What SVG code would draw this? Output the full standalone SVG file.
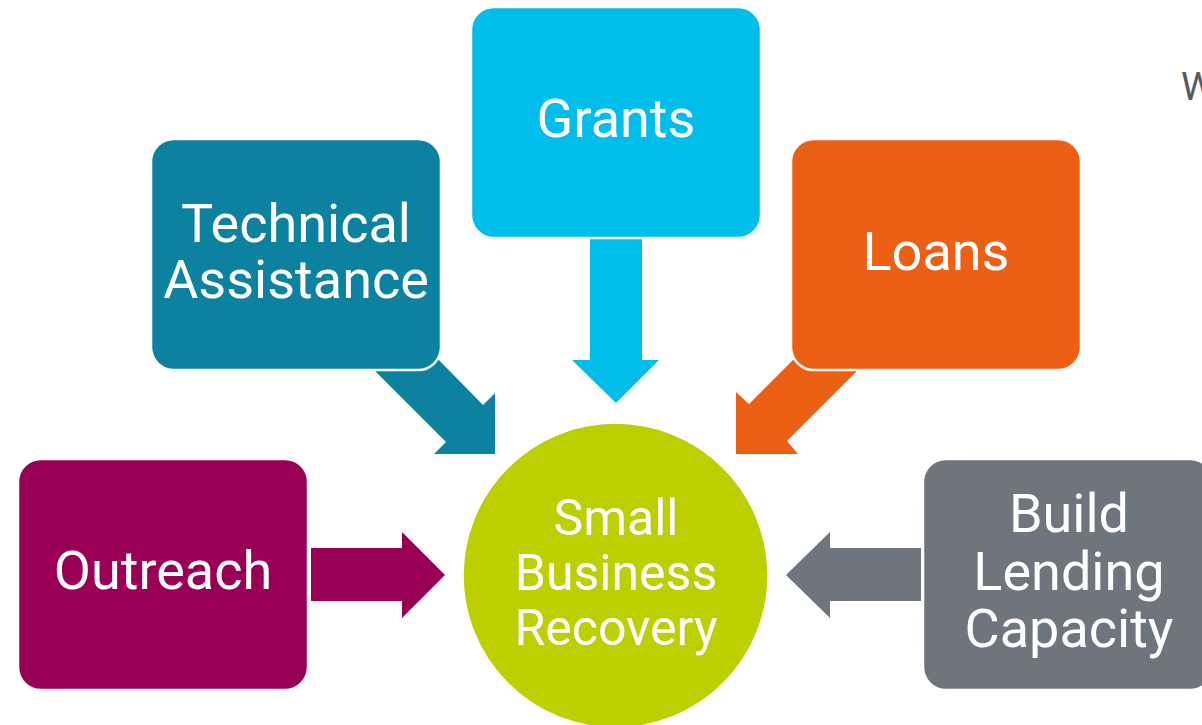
<svg xmlns="http://www.w3.org/2000/svg" width="1202" height="725" viewBox="0 0 1202 725">
<style>
.box{stroke:#ffffff;stroke-width:2.5}
.lbl{font-family:Roboto,"Liberation Sans",sans-serif;font-size:54px;fill:#ffffff;text-anchor:middle}
.clbl{font-family:Roboto,"Liberation Sans",sans-serif;font-size:50px;fill:#ffffff;text-anchor:middle}
</style>
<rect width="1202" height="725" fill="#ffffff"/>
<text x="1181" y="100" font-family="Roboto,'Liberation Sans',sans-serif" font-size="38" fill="#595959">W</text>
<g id="connectors">
<polygon fill="#0C82A0" points="356,352 446,442 434,454 495,454 495,393 483,405 430,351"/>
<polygon fill="#00BDE9" points="590,230 590,360 572,360 616,403 659,360 642,360 642,230"/>
<polygon fill="#EC6016" points="736,454 736,392 749,404 803,350 878,350 787,441 798,454"/>
<polygon fill="#990055" points="311,548 402,548 402,532 445,575 402,618 402,601 311,601"/>
<polygon fill="#6E757C" points="921,548 830,548 830,532 786,575 830,618 830,601 921,601"/>
</g>
<g id="technical">
<rect class="box" x="151" y="139" width="290" height="231" rx="23" fill="#0C82A0"/>
<text class="lbl" x="296" y="242">Technical</text>
<text class="lbl" x="296" y="298">Assistance</text>
</g>
<g id="grants">
<rect class="box" x="471" y="7" width="290" height="231" rx="23" fill="#00BDE9"/>
<text class="lbl" x="616" y="137">Grants</text>
</g>
<g id="loans">
<rect class="box" x="791" y="139" width="290" height="231" rx="23" fill="#EC6016"/>
<text class="lbl" x="936" y="270">Loans</text>
</g>
<g id="outreach">
<rect class="box" x="18" y="459" width="290" height="231" rx="23" fill="#990055"/>
<text class="lbl" x="163" y="589">Outreach</text>
</g>
<g id="build">
<rect class="box" x="923" y="459" width="290" height="231" rx="23" fill="#6E757C"/>
<text class="lbl" x="1069" y="532">Build</text>
<text class="lbl" x="1069" y="590">Lending</text>
<text class="lbl" x="1069" y="647">Capacity</text>
</g>
<g id="recovery">
<circle cx="615.5" cy="575.5" r="152.5" fill="#BCCF00" stroke="#ffffff" stroke-width="1.5"/>
<text class="clbl" x="616" y="535">Small</text>
<text class="clbl" x="616" y="590">Business</text>
<text class="clbl" x="616" y="645">Recovery</text>
</g>
</svg>
